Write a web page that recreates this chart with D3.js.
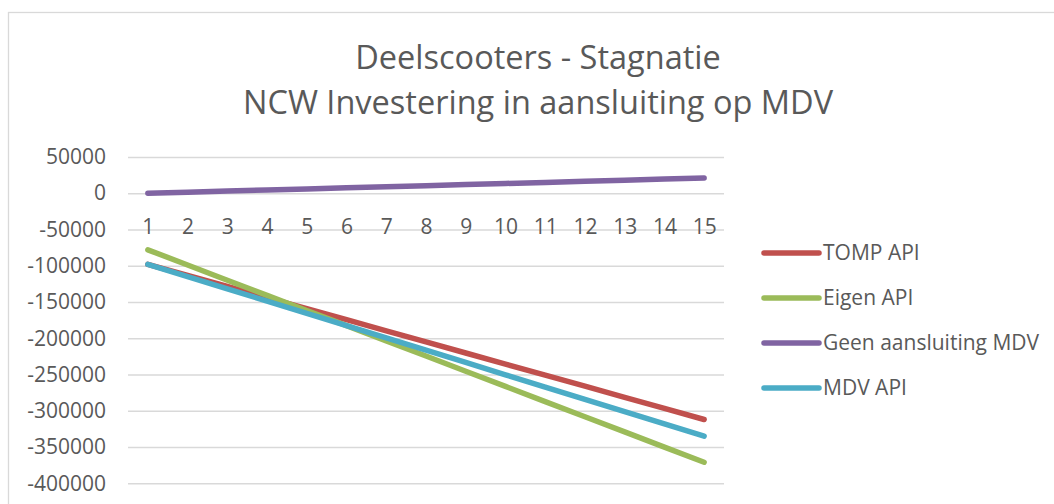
<!DOCTYPE html>
<html>
<head>
<meta charset="utf-8">
<script src="https://cdn.jsdelivr.net/npm/d3@7"></script>
<style>
  html, body { margin: 0; padding: 0; background: #fff; }
  svg { display: block; }
  text { font-family: "Open Sans", sans-serif; fill: #595959; }
</style>
</head>
<body>
<svg id="chart" width="1054" height="504"></svg>
<script>
const titleLines = ["Deelscooters - Stagnatie", "NCW Investering in aansluiting op MDV"];
const years = [1, 2, 3, 4, 5, 6, 7, 8, 9, 10, 11, 12, 13, 14, 15];
const yTicks = [50000, 0, -50000, -100000, -150000, -200000, -250000, -300000, -350000, -400000];
const seriesNames = ["TOMP API", "Eigen API", "Geen aansluiting MDV", "MDV API"];
const seriesColors = ["#c0504d", "#9bbb59", "#8064a2", "#4bacc6"];
const tompApi = [-98000, -113300, -128600, -143900, -159100, -174400, -189700, -205000, -220300, -235600, -250900, -266100, -281400, -296700, -312000];
const eigenApi = [-78000, -98900, -119900, -140800, -161700, -182600, -203600, -224500, -245400, -266400, -287300, -308200, -329100, -350100, -371000];
const geenAansluiting = [0, 1500, 3000, 4500, 6000, 7500, 9000, 10500, 12000, 13500, 15000, 16500, 18000, 19500, 21000];
const mdvApi = [-98000, -114900, -131900, -148800, -165700, -182600, -199600, -216500, -233400, -250400, -267300, -284200, -301100, -318100, -335000];
const seriesValues = [tompApi, eigenApi, geenAansluiting, mdvApi];

const svg = d3.select("#chart");
const plot = { left: 128, right: 724, top: 157, bottom: 483.3 };

// chart border
svg.append("rect")
  .attr("x", 8.5).attr("y", 12.5)
  .attr("width", 1100).attr("height", 600)
  .attr("fill", "#fff").attr("stroke", "#d9d9d9").attr("stroke-width", 1.3);

// title
svg.append("g").selectAll("text").data(titleLines).join("text")
  .attr("x", 538).attr("y", (d, i) => 69 + i * 45)
  .attr("text-anchor", "middle")
  .style("font-size", "32.5px")
  .text(d => d);

const x = d3.scalePoint().domain(years).range([plot.left, plot.right]).padding(0.5);
const y = d3.scaleLinear().domain([50000, -400000]).range([plot.top, plot.bottom]);

// y axis with gridlines
const yAxis = svg.append("g")
  .attr("transform", `translate(${plot.left},0)`)
  .call(d3.axisLeft(y).tickValues(yTicks).tickFormat(d => String(d))
    .tickSize(-(plot.right - plot.left)).tickPadding(22));
yAxis.select(".domain").remove();
yAxis.selectAll(".tick line").attr("stroke", "#d9d9d9").attr("stroke-width", 1.5);
yAxis.selectAll(".tick text").style("font-size", "21px").attr("fill", "#595959")
  .style("font-family", "'Open Sans', sans-serif");

// x axis at zero
const xAxis = svg.append("g")
  .attr("transform", `translate(0,${y(0)})`)
  .call(d3.axisBottom(x).tickSize(0).tickPadding(26));
xAxis.select(".domain").remove();
xAxis.selectAll(".tick text").style("font-size", "21px").attr("fill", "#595959")
  .style("font-family", "'Open Sans', sans-serif");

// lines
const line = d3.line().x((d, i) => x(years[i])).y(d => y(d));
svg.append("g").selectAll("path").data(seriesValues).join("path")
  .attr("d", d => line(d))
  .attr("fill", "none")
  .attr("stroke", (d, i) => seriesColors[i])
  .attr("stroke-width", 5.5)
  .attr("stroke-linecap", "round")
  .attr("stroke-linejoin", "round");

// legend
const legend = svg.append("g").selectAll("g").data(seriesNames).join("g")
  .attr("transform", (d, i) => `translate(764,${253 + i * 45})`);
legend.append("line")
  .attr("x1", 0).attr("x2", 55).attr("y1", 0).attr("y2", 0)
  .attr("stroke", (d, i) => seriesColors[i])
  .attr("stroke-width", 5.5).attr("stroke-linecap", "round");
legend.append("text")
  .attr("x", 59).attr("y", 0).attr("dy", "0.35em")
  .style("font-size", "21px")
  .text(d => d);
</script>
</body>
</html>
